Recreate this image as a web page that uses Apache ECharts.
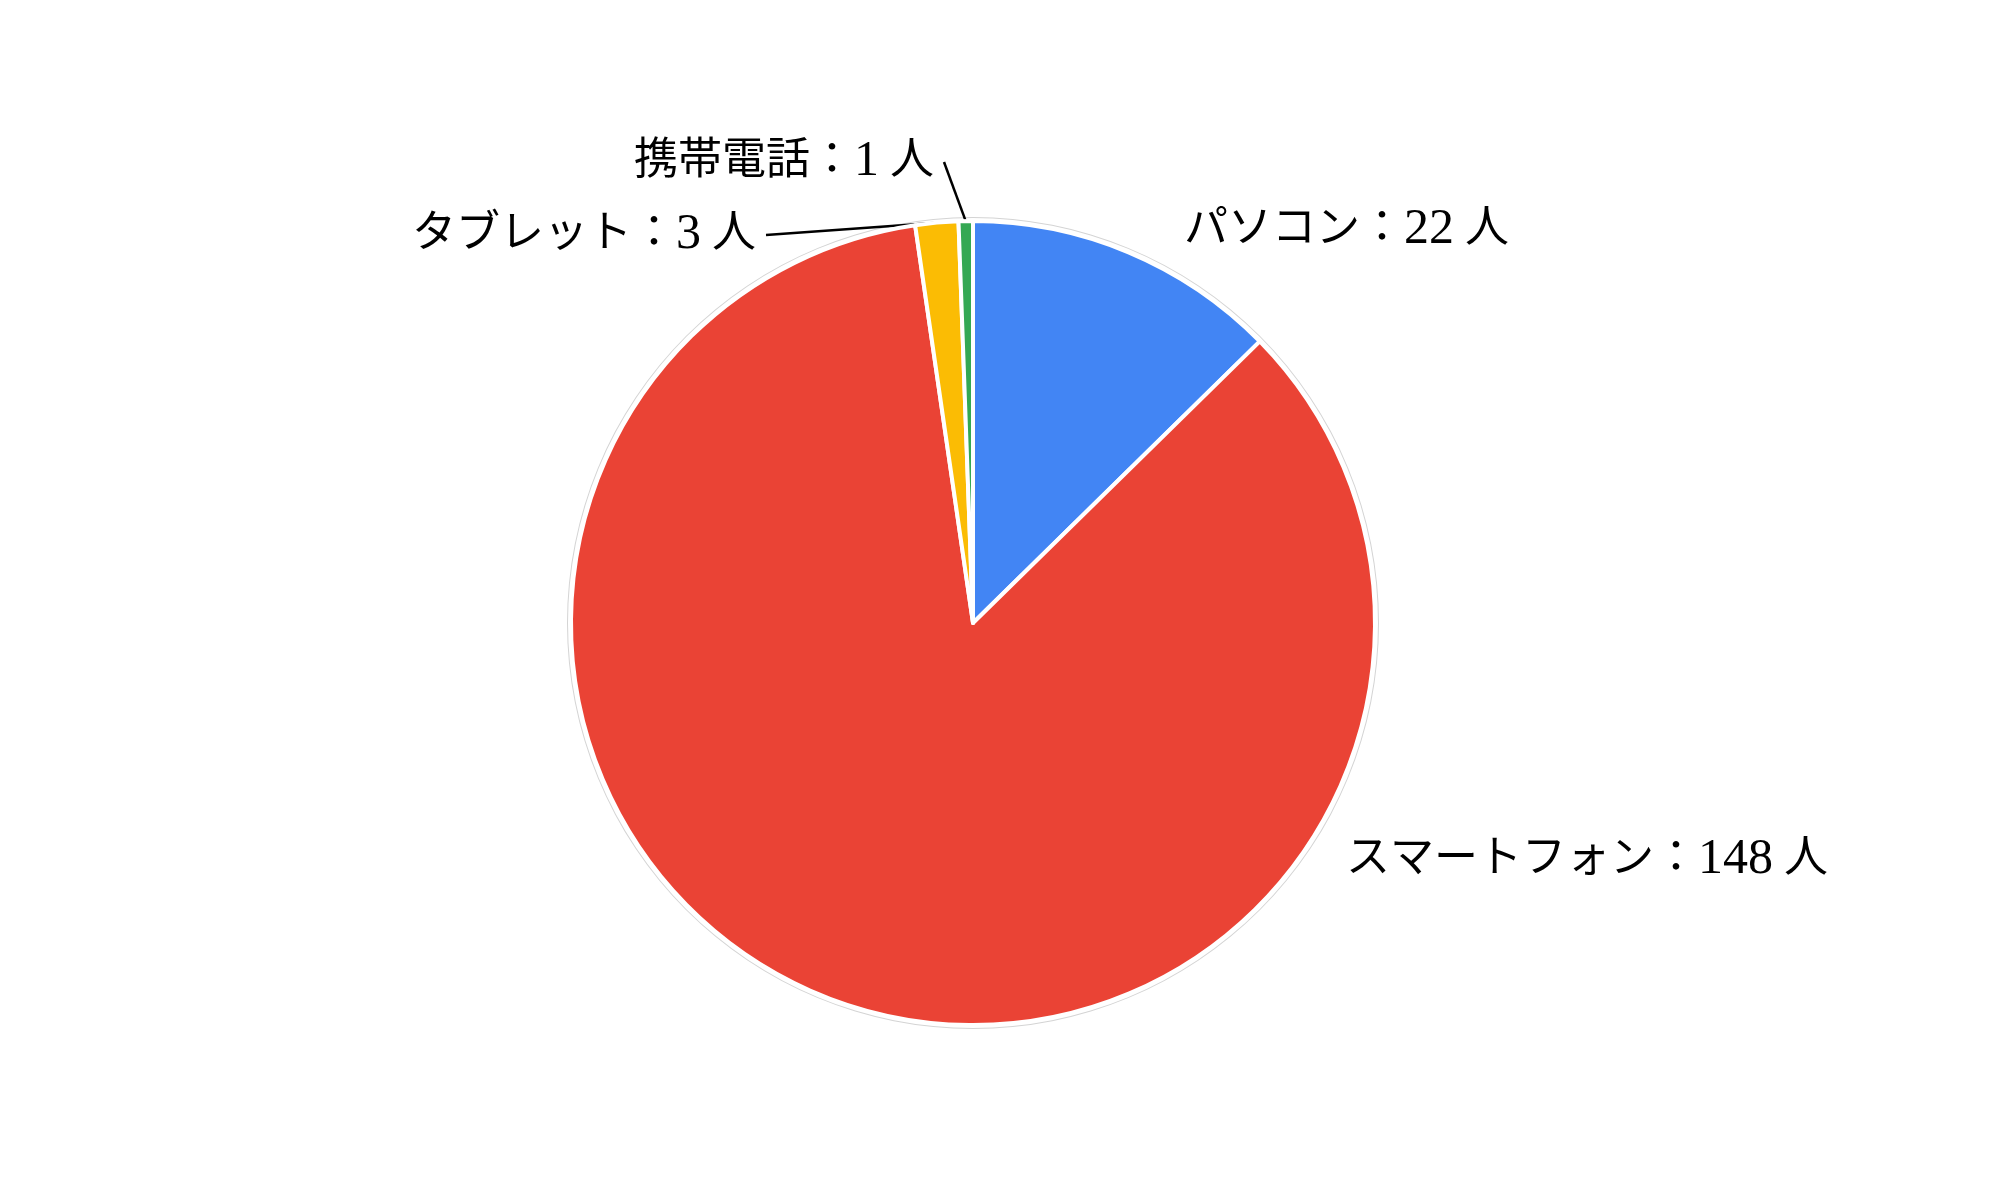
<!DOCTYPE html>
<html>
<head>
<meta charset="utf-8">
<script src="https://cdn.jsdelivr.net/npm/echarts@6/dist/echarts.min.js"></script>
<style>
  html, body { margin: 0; padding: 0; background: #fff; }
  #main { width: 2000px; height: 1200px; }
</style>
</head>
<body>
<div id="main"></div>
<script>
  'use strict'
  var categories = ['パソコン', 'スマートフォン', 'タブレット', '携帯電話'];
  var counts = [22, 148, 3, 1];
  var colors = ['#4285f4', '#ea4335', '#fbbc04', '#34a853'];

  // where each label sits: [x, y, align]
  var labelSpots = [
    [1184, 230, 'left'],
    [1346, 860, 'left'],
    [756, 235, 'right'],
    [934, 162, 'right']
  ];

  var chart = echarts.init(document.getElementById('main'));

  var data = categories.map(function (name, i) {
    return {
      name: name,
      value: counts[i],
      itemStyle: { color: colors[i] },
      labelLine: { show: i >= 2 }
    };
  });

  var font = "'Liberation Serif', 'Noto Sans CJK JP', serif";

  var option = {
    animation: false,
    series: [
      {
        // faint outline round the pie
        type: 'pie',
        silent: true,
        center: [973, 623],
        radius: [405, 406],
        label: { show: false },
        labelLine: { show: false },
        itemStyle: { color: '#d4d4d4' },
        data: [1],
        z: 1
      },
      {
        type: 'pie',
        center: [973, 623],
        radius: 402,
        startAngle: 90,
        clockwise: true,
        z: 2,
        itemStyle: {
          borderColor: '#fff',
          borderWidth: 4
        },
        label: {
          show: true,
          position: 'outside',
          formatter: function (p) { return p.name + '：{n|' + p.value + '} 人'; },
          fontFamily: font,
          fontSize: 44,
          color: '#000',
          rich: {
            n: { fontFamily: font, fontSize: 50, color: '#000' }
          }
        },
        labelLine: {
          lineStyle: { color: '#000', width: 2.5 }
        },
        labelLayout: function (params) {
          var s = labelSpots[params.dataIndex];
          var out = { x: s[0], y: s[1], align: s[2], verticalAlign: 'middle' };
          if (params.dataIndex >= 2 && params.labelLinePoints) {
            var p0 = params.labelLinePoints[0];
            var endX = s[2] === 'right' ? s[0] + 10 : s[0] - 10;
            out.labelLinePoints = [p0, [endX, s[1]]];
          }
          return out;
        },
        data: data
      }
    ]
  };

  chart.setOption(option);
</script>
</body>
</html>
